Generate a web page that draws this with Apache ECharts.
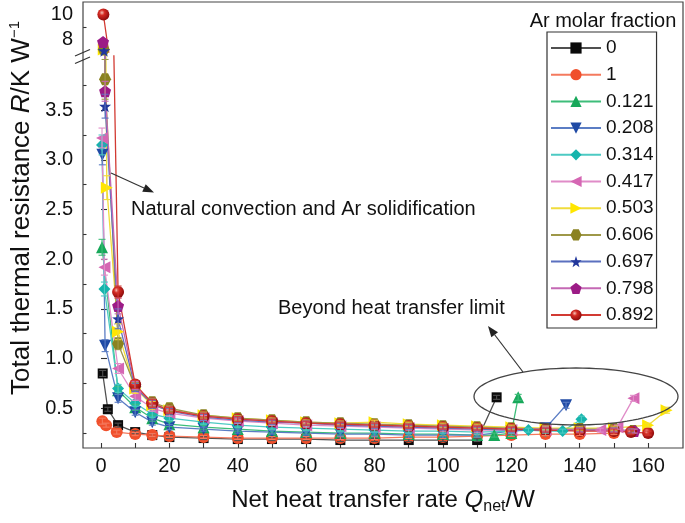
<!DOCTYPE html>
<html><head><meta charset="utf-8">
<script src="https://cdn.jsdelivr.net/npm/echarts@6/dist/echarts.min.js"></script>
<style>html,body{margin:0;padding:0;background:#fff}#c{width:685px;height:523px}</style>
</head><body><div id="c"></div>
<script>
// ---------- data ----------
const seriesNames = ['0', '1', '0.121', '0.208', '0.314', '0.417', '0.503', '0.606', '0.697', '0.798', '0.892'];

const q0 = [0.5, 2, 5, 10, 15, 20, 30, 40, 50, 60, 70, 80, 90, 100, 110, 115.7];
const r0 = [0.85, 0.49, 0.33, 0.26, 0.23, 0.21, 0.20, 0.19, 0.19, 0.19, 0.18, 0.18, 0.18, 0.18, 0.18, 0.61];
const e0 = [0.03, 0.02, 0.02, 0.015, 0.015, 0.015, 0.015, 0.015, 0.015, 0.015, 0.015, 0.015, 0.015, 0.015, 0.015, 0.02];

const q1 = [0.4, 1.5, 4.6, 10, 15, 20, 30, 40, 50, 60, 70, 80, 90, 100, 110, 120, 130, 140, 150];
const r1 = [0.37, 0.33, 0.26, 0.24, 0.23, 0.22, 0.21, 0.20, 0.20, 0.20, 0.20, 0.20, 0.21, 0.21, 0.22, 0.23, 0.24, 0.24, 0.25];
const e1 = [0.03, 0.02, 0.02, 0.015, 0.015, 0.015, 0.015, 0.015, 0.015, 0.015, 0.015, 0.015, 0.015, 0.015, 0.015, 0.015, 0.015, 0.015, 0.015];

const q2 = [0.3, 5, 10, 15, 20, 30, 40, 50, 60, 70, 80, 90, 100, 110, 115, 120, 122];
const r2 = [2.12, 0.68, 0.51, 0.40, 0.34, 0.31, 0.29, 0.27, 0.26, 0.25, 0.25, 0.24, 0.24, 0.23, 0.23, 0.25, 0.61];
const e2 = [0.08, 0.04, 0.03, 0.03, 0.025, 0.02, 0.02, 0.02, 0.02, 0.02, 0.02, 0.02, 0.02, 0.02, 0.02, 0.02, 0.03];

const q3 = [0.4, 1.2, 5, 10, 15, 20, 30, 40, 50, 60, 70, 80, 90, 100, 110, 120, 130, 136];
const r3 = [3.05, 1.13, 0.60, 0.46, 0.36, 0.31, 0.29, 0.27, 0.26, 0.25, 0.24, 0.24, 0.23, 0.23, 0.23, 0.27, 0.30, 0.53];
const e3 = [0.1, 0.06, 0.04, 0.03, 0.03, 0.025, 0.02, 0.02, 0.02, 0.02, 0.02, 0.02, 0.02, 0.02, 0.02, 0.02, 0.02, 0.03];

const q4 = [0.3, 1, 5, 10, 15, 20, 30, 40, 50, 60, 70, 80, 90, 100, 110, 120, 125, 130, 135, 140.5];
const r4 = [3.15, 1.70, 0.70, 0.55, 0.44, 0.40, 0.36, 0.33, 0.31, 0.30, 0.29, 0.28, 0.27, 0.27, 0.26, 0.27, 0.28, 0.27, 0.27, 0.39];
const e4 = [0.1, 0.07, 0.04, 0.03, 0.03, 0.025, 0.02, 0.02, 0.02, 0.02, 0.02, 0.02, 0.02, 0.02, 0.02, 0.02, 0.02, 0.02, 0.02, 0.03];

const q5 = [0.3, 1, 5, 10, 15, 20, 30, 40, 50, 60, 70, 80, 90, 100, 110, 120, 130, 140, 146, 151, 155.7];
const r5 = [3.22, 1.92, 0.90, 0.62, 0.50, 0.45, 0.40, 0.37, 0.35, 0.33, 0.32, 0.31, 0.30, 0.29, 0.28, 0.28, 0.28, 0.28, 0.28, 0.31, 0.60];
const e5 = [0.1, 0.08, 0.05, 0.04, 0.03, 0.03, 0.025, 0.02, 0.02, 0.02, 0.02, 0.02, 0.02, 0.02, 0.02, 0.02, 0.02, 0.02, 0.02, 0.02, 0.03];

const q6 = [0.8, 1.7, 5, 10, 15, 20, 30, 40, 50, 60, 70, 80, 90, 100, 110, 120, 130, 140, 150, 160, 165.4];
const r6 = [7.2, 2.72, 1.27, 0.70, 0.53, 0.48, 0.43, 0.40, 0.38, 0.36, 0.35, 0.36, 0.34, 0.33, 0.32, 0.31, 0.30, 0.30, 0.30, 0.33, 0.48];
const e6 = [0.3, 0.12, 0.08, 0.05, 0.04, 0.03, 0.03, 0.025, 0.02, 0.02, 0.02, 0.02, 0.02, 0.02, 0.02, 0.02, 0.02, 0.02, 0.02, 0.02, 0.03];

const q7 = [0.8, 1.2, 5, 10, 15, 20, 30, 40, 50, 60, 70, 80, 90, 100, 110, 120, 130, 140, 150, 155.6];
const r7 = [7.2, 3.81, 1.15, 0.72, 0.56, 0.50, 0.43, 0.40, 0.38, 0.36, 0.35, 0.34, 0.33, 0.32, 0.31, 0.30, 0.29, 0.29, 0.29, 0.27];
const e7 = [0.3, 0.2, 0.06, 0.04, 0.04, 0.03, 0.03, 0.025, 0.02, 0.02, 0.02, 0.02, 0.02, 0.02, 0.02, 0.02, 0.02, 0.02, 0.02, 0.02];

const q8 = [0.9, 1.2, 5, 10, 15, 20, 30, 40, 50, 60, 70, 80, 90, 100, 110, 120, 130, 140, 150, 155];
const r8 = [7.1, 3.54, 1.40, 0.71, 0.54, 0.47, 0.41, 0.38, 0.36, 0.35, 0.33, 0.32, 0.31, 0.30, 0.29, 0.28, 0.28, 0.28, 0.28, 0.27];
const e8 = [0.3, 0.12, 0.1, 0.04, 0.04, 0.03, 0.03, 0.025, 0.02, 0.02, 0.02, 0.02, 0.02, 0.02, 0.02, 0.02, 0.02, 0.02, 0.02, 0.02];

const q9 = [0.6, 1.2, 5, 10, 15, 20, 30, 40, 50, 60, 70, 80, 90, 100, 110, 120, 130, 140, 150, 156];
const r9 = [7.8, 3.69, 1.53, 0.73, 0.55, 0.48, 0.42, 0.39, 0.37, 0.35, 0.34, 0.33, 0.32, 0.31, 0.30, 0.29, 0.29, 0.28, 0.28, 0.27];
const e9 = [0.3, 0.1, 0.08, 0.04, 0.04, 0.03, 0.03, 0.025, 0.02, 0.02, 0.02, 0.02, 0.02, 0.02, 0.02, 0.02, 0.02, 0.02, 0.02, 0.02];

const q10 = [0.7, 5, 10, 15, 20, 30, 40, 50, 60, 70, 80, 90, 100, 110, 120, 130, 140, 150, 155, 160];
const r10 = [10, 1.67, 0.74, 0.55, 0.48, 0.42, 0.39, 0.37, 0.35, 0.34, 0.33, 0.32, 0.31, 0.30, 0.29, 0.28, 0.27, 0.27, 0.26, 0.25];
const e10 = [0.3, 0.06, 0.04, 0.04, 0.03, 0.03, 0.025, 0.02, 0.02, 0.02, 0.02, 0.02, 0.02, 0.02, 0.02, 0.02, 0.02, 0.02, 0.02, 0.02];

const xLabelTicks = [0, 20, 40, 60, 80, 100, 120, 140, 160];
const xAllTicks = [0, 10, 20, 30, 40, 50, 60, 70, 80, 90, 100, 110, 120, 130, 140, 150, 160];
const yLowMajor = [0.5, 1.0, 1.5, 2.0, 2.5, 3.0, 3.5];
const yLowMinor = [0.25, 0.75, 1.25, 1.75, 2.25, 2.75, 3.25, 3.75];
const yHighMajor = [8, 10];
const yHighMinor = [9];

const qList = [q0, q1, q2, q3, q4, q5, q6, q7, q8, q9, q10];
const rList = [r0, r1, r2, r3, r4, r5, r6, r7, r8, r9, r10];
const eList = [e0, e1, e2, e3, e4, e5, e6, e7, e8, e9, e10];

// ---------- styles ----------
const FONT = '"Liberation Sans", Arial, Helvetica, sans-serif';
const downTri = 'path://M-10,-8.66 L10,-8.66 L0,8.66 Z';
const leftTri = 'path://M-8.66,0 L8.66,-10 L8.66,10 Z';
const rightTri = 'path://M8.66,0 L-8.66,-10 L-8.66,10 Z';
const hexagon = 'path://M-10,0 L-5,-8.66 L5,-8.66 L10,0 L5,8.66 L-5,8.66 Z';
const star = 'path://M0,-10 L2.35,-3.24 L9.51,-3.09 L3.8,1.24 L5.88,8.09 L0,4 L-5.88,8.09 L-3.8,1.24 L-9.51,-3.09 L-2.35,-3.24 Z';
const pentagon = 'path://M0,-10 L9.51,-3.09 L5.88,8.09 L-5.88,8.09 L-9.51,-3.09 Z';
const ball = new echarts.graphic.RadialGradient(0.38, 0.35, 0.65, [
  {offset: 0, color: '#f6c2b6'}, {offset: 0.35, color: '#d42a22'}, {offset: 1, color: '#8e0c0c'}]);

const styles = [
  {symbol: 'rect', size: 10, color: '#0a0a0a', line: '#505050'},
  {symbol: 'circle', size: 12, color: '#f0502c', line: '#f47a5e'},
  {symbol: 'triangle', size: 12, color: '#17a85a', line: '#3ebd7a'},
  {symbol: downTri, size: 12, color: '#1f4aa5', line: '#5b7dc4'},
  {symbol: 'diamond', size: 12, color: '#16b4ac', line: '#4dcac3'},
  {symbol: leftTri, size: 12, color: '#d566b3', line: '#e08cc8'},
  {symbol: rightTri, size: 12, color: '#ffe600', line: '#f0dc3c'},
  {symbol: hexagon, size: 12, color: '#8a8220', line: '#9e9848'},
  {symbol: star, size: 12, color: '#22379c', line: '#5b70bf'},
  {symbol: pentagon, size: 12, color: '#9c1b86', line: '#c468b4'},
  {symbol: 'circle', size: 12, color: ball, line: '#d23a32'}
];

// ---------- series ----------
function errorBarItem(color) {
  return function (params, api) {
    const x = api.value(0), y = api.value(1), e = api.value(2);
    const lo = api.coord([x, y - e]), hi = api.coord([x, y + e]);
    const half = 3.5;
    const st = {stroke: color, lineWidth: 1.1};
    return {type: 'group', children: [
      {type: 'line', shape: {x1: lo[0], y1: lo[1], x2: hi[0], y2: hi[1]}, style: st},
      {type: 'line', shape: {x1: lo[0] - half, y1: lo[1], x2: lo[0] + half, y2: lo[1]}, style: st},
      {type: 'line', shape: {x1: hi[0] - half, y1: hi[1], x2: hi[0] + half, y2: hi[1]}, style: st}
    ]};
  };
}

const series = [];
seriesNames.forEach((nm, i) => {
  const pts = qList[i].map((q, k) => [q, rList[i][k]]);
  const errPts = qList[i].map((q, k) => [q, rList[i][k], eList[i][k]]);
  [[0, 0], [1, 2]].forEach(([xi, yi]) => {
    series.push({
      type: 'line', name: nm, xAxisIndex: xi, yAxisIndex: yi,
      data: pts, clip: true, animation: false, z: 2,
      symbol: styles[i].symbol, symbolSize: styles[i].size, showAllSymbol: true,
      itemStyle: {color: styles[i].color, opacity: 1},
      lineStyle: {color: styles[i].line, width: 1.3},
      emphasis: {disabled: true}
    });
  });
  series.push({
    type: 'custom', name: nm, xAxisIndex: 1, yAxisIndex: 2, clip: true, z: 3,
    data: errPts, renderItem: errorBarItem(styles[i].line), animation: false, silent: true
  });
});

// ---------- decorations ----------
function arrow(x1, y1, x2, y2) {
  const dx = x2 - x1, dy = y2 - y1, L = Math.hypot(dx, dy);
  const ux = dx / L, uy = dy / L, hl = 11, hw = 4.2;
  const bx = x2 - ux * hl, by = y2 - uy * hl;
  return [
    {type: 'line', shape: {x1, y1, x2: bx, y2: by}, style: {stroke: '#333', lineWidth: 1.2}, z: 100},
    {type: 'polygon', shape: {points: [[x2, y2], [bx - uy * hw, by + ux * hw], [bx + uy * hw, by - ux * hw]]}, style: {fill: '#222'}, z: 100}
  ];
}
const ellipsePts = [];
for (let k = 0; k < 96; k++) {
  const t = k / 96 * Math.PI * 2;
  ellipsePts.push([576 + 102 * Math.cos(t), 396.5 + 28.5 * Math.sin(t)]);
}

const graphic = [
  {type: 'rect', shape: {x: 83, y: 2, width: 600, height: 446}, style: {fill: 'none', stroke: '#444', lineWidth: 1.2}, z: 100},
  {type: 'line', shape: {x1: 75, y1: 56, x2: 90, y2: 49.5}, style: {stroke: '#333', lineWidth: 1.2}, z: 101},
  {type: 'line', shape: {x1: 75, y1: 63.5, x2: 90, y2: 57}, style: {stroke: '#333', lineWidth: 1.2}, z: 101},
  {type: 'polygon', shape: {points: ellipsePts}, style: {fill: 'none', stroke: '#444', lineWidth: 1.3}, z: 100},
  ...arrow(111, 173, 154, 192.5),
  ...arrow(523, 372, 488, 326),
  {type: 'text', left: 131, top: 199, style: {text: 'Natural convection and Ar solidification', font: '20px ' + FONT, fill: '#111'}, z: 100},
  {type: 'text', left: 278, top: 298, style: {text: 'Beyond heat transfer limit', font: '20px ' + FONT, fill: '#111'}, z: 100},
  {type: 'text', x: 603, y: 21, style: {text: 'Ar molar fraction', font: '20px ' + FONT, fill: '#111', align: 'center', verticalAlign: 'middle'}, z: 100},
  {type: 'text', x: 383, y: 500, style: {
    text: '{a|Net heat transfer rate }{i|Q}{s|net}{a|/W}', align: 'center', verticalAlign: 'middle',
    rich: {
      a: {fontSize: 24, fontFamily: FONT, fill: '#111', lineHeight: 26},
      i: {fontSize: 24, fontFamily: FONT, fontStyle: 'italic', fill: '#111', lineHeight: 26},
      s: {fontSize: 16, fontFamily: FONT, fill: '#111', lineHeight: 16, padding: [14, 0, 0, 0]}
    }}, z: 100},
  {type: 'text', x: 22, y: 208, rotation: Math.PI / 2, style: {
    text: '{a|Total thermal resistance }{i|R}{a|/K W}{s|−1}', align: 'center', verticalAlign: 'middle',
    rich: {
      a: {fontSize: 26, fontFamily: FONT, fill: '#111', lineHeight: 28},
      i: {fontSize: 26, fontFamily: FONT, fontStyle: 'italic', fill: '#111', lineHeight: 28},
      s: {fontSize: 15, fontFamily: FONT, fill: '#111', lineHeight: 15, padding: [0, 0, 15, 0]}
    }}, z: 100}
];

function yAxisDef(gridIndex, min, max, major, minor, isMajor) {
  return {
    type: 'value', gridIndex, min, max, position: 'left',
    axisLine: {show: false},
    splitLine: {show: false},
    axisTick: {show: true, inside: true, length: isMajor ? 6 : 3.5, customValues: isMajor ? major : minor,
      lineStyle: {color: '#333', width: 1.1}},
    axisLabel: {show: isMajor, customValues: major, margin: 10, fontSize: 20, fontFamily: FONT, color: '#111',
      formatter: v => (gridIndex === 1 ? v.toFixed(1) : String(v))}
  };
}

const option = {
  animation: false,
  backgroundColor: '#fff',
  grid: [
    {left: 83, top: 2, width: 600, height: 50, outerBoundsMode: 'none', containLabel: false},
    {left: 83, top: 56, width: 600, height: 392, outerBoundsMode: 'none', containLabel: false}
  ],
  xAxis: [
    {type: 'value', gridIndex: 0, min: -5.26, max: 170.2, show: false},
    {type: 'value', gridIndex: 1, min: -5.26, max: 170.2,
      axisLine: {show: false}, splitLine: {show: false},
      axisTick: {show: true, inside: true, length: 5, customValues: xAllTicks, lineStyle: {color: '#333', width: 1.1}},
      axisLabel: {customValues: xLabelTicks, margin: 8, fontSize: 20, fontFamily: FONT, color: '#111'}}
  ],
  yAxis: [
    yAxisDef(0, 7, 11, yHighMajor, yHighMinor, true),
    yAxisDef(0, 7, 11, yHighMajor, yHighMinor, false),
    yAxisDef(1, 0.1, 4.045, yLowMajor, yLowMinor, true),
    yAxisDef(1, 0.1, 4.045, yLowMajor, yLowMinor, false)
  ],
  legend: {
    data: seriesNames, orient: 'vertical', left: 547, top: 32,
    itemWidth: 50, itemHeight: 14, itemGap: 6.7, padding: [6, 3, 3, 3],
    borderColor: '#333', borderWidth: 1.2, selectedMode: false,
    textStyle: {fontSize: 19, fontFamily: FONT, color: '#111', lineHeight: 20}
  },
  graphic,
  series
};

const chart = echarts.init(document.getElementById('c'), null, {renderer: 'canvas'});
chart.setOption(option);
</script>
</body></html>
